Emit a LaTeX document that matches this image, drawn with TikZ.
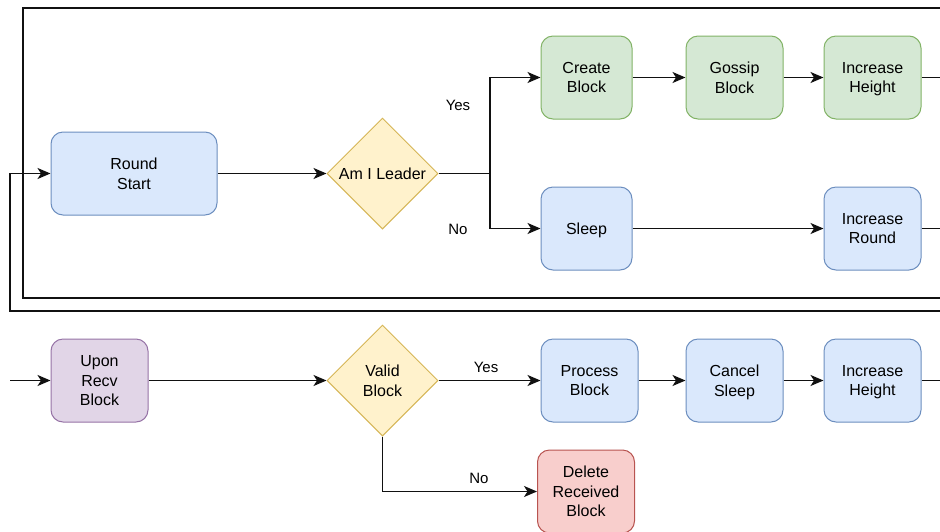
\documentclass[tikz,border=0pt]{standalone}
\usepackage{fontspec}
\setmainfont{Liberation Sans}
\usetikzlibrary{shapes.geometric,arrows.meta}
\definecolor{bluefill}{HTML}{DAE8FC}\definecolor{bluedraw}{HTML}{6C8EBF}
\definecolor{greenfill}{HTML}{D5E8D4}\definecolor{greendraw}{HTML}{82B366}
\definecolor{yellowfill}{HTML}{FFF2CC}\definecolor{yellowdraw}{HTML}{D6B656}
\definecolor{purplefill}{HTML}{E1D5E7}\definecolor{purpledraw}{HTML}{9673A6}
\definecolor{redfill}{HTML}{F8CECC}\definecolor{reddraw}{HTML}{B85450}
\definecolor{wire}{HTML}{111111}
\tikzset{
  box/.style={rectangle, rounded corners=12pt, line width=1pt, inner sep=0pt,
    minimum height=83pt, align=center, text depth=-1pt,
    font=\fontsize{16}{19.5}\selectfont},
  bluebox/.style={box, fill=bluefill, draw=bluedraw},
  greenbox/.style={box, fill=greenfill, draw=greendraw},
  purplebox/.style={box, fill=purplefill, draw=purpledraw},
  redbox/.style={box, fill=redfill, draw=reddraw},
  decision/.style={diamond, fill=yellowfill, draw=yellowdraw, line width=1pt,
    inner sep=0pt, minimum width=111pt, minimum height=111pt, align=center,
    text depth=-1pt, font=\fontsize{16}{19.5}\selectfont},
  wirestyle/.style={draw=wire, line width=1.4pt},
  arr/.style={wirestyle, -{Stealth[length=13pt,width=11pt,inset=3.5pt]}},
  lbl/.style={font=\fontsize{15}{18}\selectfont, inner sep=0pt}
}
\begin{document}
\begin{tikzpicture}[x=1pt,y=-1pt]
\useasboundingbox (0,0) rectangle (940,531);
\fill[white] (0,0) rectangle (940,531);

% upper lane: the round loop
\node[bluebox, minimum width=166pt] (start) at (134,173.5) {Round\\Start};
\node[decision] (leader) at (382.5,173.5) {Am I Leader};
\node[greenbox, minimum width=91pt] (create) at (586.5,77.5) {Create\\Block};
\node[greenbox, minimum width=97pt] (gossip) at (734.5,77.5) {Gossip\\Block};
\node[greenbox, minimum width=97pt] (incheight) at (872.5,77.5) {Increase\\Height};
\node[bluebox, minimum width=91pt] (sleep) at (586.5,228.5) {Sleep};
\node[bluebox, minimum width=97pt] (incround) at (872.5,228.5) {Increase\\Round};

% lower lane: receiving a block
\node[purplebox, minimum width=97pt] (recv) at (99.5,380.5) {Upon\\Recv\\Block};
\node[decision] (valid) at (382.5,380.5) {Valid\\Block};
\node[bluebox, minimum width=97pt] (process) at (589.5,380.5) {Process\\Block};
\node[bluebox, minimum width=97pt] (cancel) at (734.5,380.5) {Cancel\\Sleep};
\node[bluebox, minimum width=97pt] (incheight2) at (872.5,380.5) {Increase\\Height};
\node[redbox, minimum width=97pt] (delete) at (586,491.5) {Delete\\Received\\Block};

% loose ends and bends
\coordinate (frTR) at (940,8);
\coordinate (frTL) at (23,8);
\coordinate (frBL) at (23,298);
\coordinate (frBR) at (940,298);
\coordinate (loopR) at (940,311);
\coordinate (loopL) at (10,311);
\coordinate (split) at (490,173.5);
\coordinate (recvIn) at (10,380.5);
\coordinate (outA) at (940,77.5);
\coordinate (outB) at (940,228.5);
\coordinate (outC) at (940,380.5);

% frame line and return path
\draw[wirestyle] (frTR) -- (frTL) -- (frBL) -- (frBR);
\draw[arr] (loopR) -- (loopL) |- (start.west);

% upper lane connectors
\draw[arr] (start) -- (leader);
\draw[wirestyle] (leader.east) -- (split);
\draw[arr] (split) |- (create.west);
\draw[arr] (split) |- (sleep.west);
\node[lbl] (yes1) at (458,105) {Yes};
\node[lbl] (no1) at (458,229.5) {No};
\draw[arr] (create) -- (gossip);
\draw[arr] (gossip) -- (incheight);
\draw[wirestyle] (incheight.east) -- (outA);
\draw[arr] (sleep) -- (incround);
\draw[wirestyle] (incround.east) -- (outB);

% lower lane connectors
\draw[arr] (recvIn) -- (recv.west);
\draw[arr] (recv) -- (valid);
\draw[arr] (valid.east) -- (process.west);
\node[lbl] (yes2) at (486,367) {Yes};
\draw[arr] (valid.south) |- (delete.west);
\node[lbl] (no2) at (479,478) {No};
\draw[arr] (process) -- (cancel);
\draw[arr] (cancel) -- (incheight2);
\draw[wirestyle] (incheight2.east) -- (outC);
\end{tikzpicture}
\end{document}
